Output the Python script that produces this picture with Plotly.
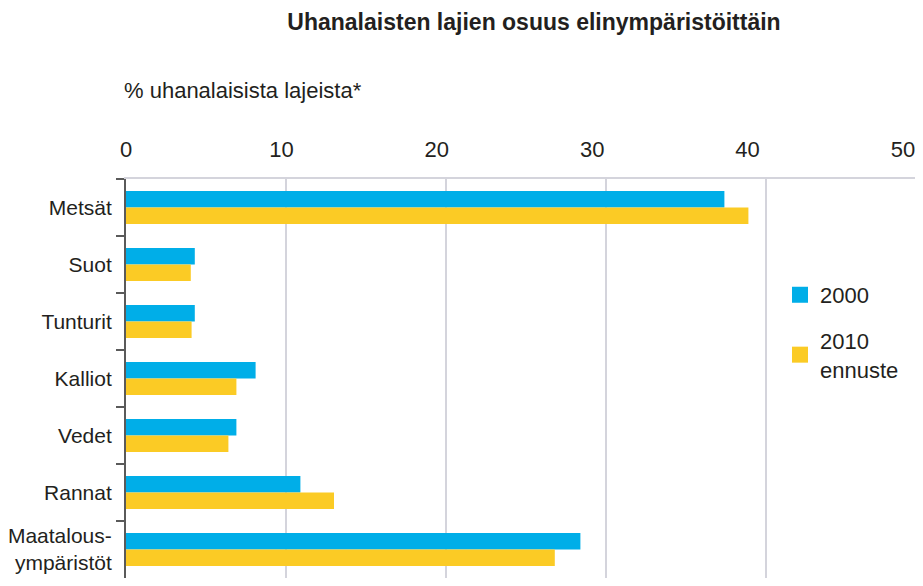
import plotly.graph_objects as go

categories = ["Metsät", "Suot", "Tunturit", "Kalliot", "Vedet", "Rannat", "Maatalous-<br>ympäristöt"]
values_2000 = [37.4, 4.3, 4.3, 8.1, 6.9, 10.9, 28.4]
values_2010 = [38.9, 4.05, 4.1, 6.9, 6.4, 13.0, 26.8]
series_names = ["2000", "2010<br>ennuste"]
series_colors = ["#00AEE8", "#FBCB25"]
tick_values = [0, 10, 20, 30, 40, 50]

FONT = "Liberation Sans Narrow, Liberation Sans, Arial, sans-serif"
TXT = "#231f20"

W, H = 915, 570
L, R, T, B = 118, 3, 171, 0
PW = W - L - R

fig = go.Figure()
for vals, name, col in zip([values_2000, values_2010], series_names, series_colors):
    fig.add_trace(go.Bar(y=categories, x=vals, orientation="h", name=name,
                         marker=dict(color=col, line=dict(width=0)), showlegend=False))
# legend entries with larger square swatches
for i, (name, col) in enumerate(zip(series_names, series_colors)):
    fig.add_trace(go.Scatter(x=[None], y=[None], mode="markers", name=name,
                             legendgroup=f"g{i}",
                             marker=dict(symbol="square", size=17, color=col)))
# carrier for the tick-label axis
fig.add_trace(go.Scatter(x=[None], y=[None], xaxis="x2", yaxis="y", showlegend=False,
                         hoverinfo="skip"))

fig.update_layout(
    width=W, height=H,
    margin=dict(l=L, r=R, t=T, b=B),
    paper_bgcolor="white", plot_bgcolor="rgba(0,0,0,0)",
    barmode="group", bargap=0.42, bargroupgap=0,
    font=dict(family=FONT, size=22, color=TXT),
    title=dict(text="<b>Uhanalaisten lajien osuus elinympäristöittäin</b>",
               x=526 / W, xanchor="center", y=1 - 14 / H, yanchor="middle",
               font=dict(family=FONT, size=23, color=TXT)),
    showlegend=True,
    legend=dict(x=(772 - L) / PW, y=0.762, xanchor="left", yanchor="top",
                font=dict(family=FONT, size=22, color=TXT), bgcolor="rgba(0,0,0,0)",
                tracegroupgap=14, itemwidth=30),
    annotations=[dict(text="% uhanalaisista lajeista*", xref="paper", yref="paper",
                      x=-0.005, y=1.223, xanchor="left", yanchor="middle",
                      showarrow=False, font=dict(family=FONT, size=22, color=TXT))],
    xaxis=dict(side="top", range=[0, PW / 16.0], tickvals=tick_values, automargin=False,
               showticklabels=False,
               showgrid=True, gridcolor="#d4d4dc", gridwidth=2,
               zeroline=False, showline=True, linecolor="#d4d4dc", linewidth=2,
               mirror=True, ticks=""),
    xaxis2=dict(side="top", anchor="free", position=1, domain=[0, (895 - L) / PW],
                range=[0, 50], tickvals=tick_values, automargin=False,
                showgrid=False, zeroline=False, showline=False, ticks="",
                ticklabelstandoff=18, tickfont=dict(family=FONT, size=22, color=TXT)),
    yaxis=dict(autorange="reversed", type="category", showgrid=False, automargin=False,
               showline=True, linecolor="#5a5a5a", linewidth=2,
               ticks="outside", tickson="boundaries", ticklen=8, tickcolor="#5a5a5a",
               tickwidth=1.5, ticklabelstandoff=8,
               tickfont=dict(family=FONT, size=21, color=TXT)),
)

fig.write_html("out.html")
